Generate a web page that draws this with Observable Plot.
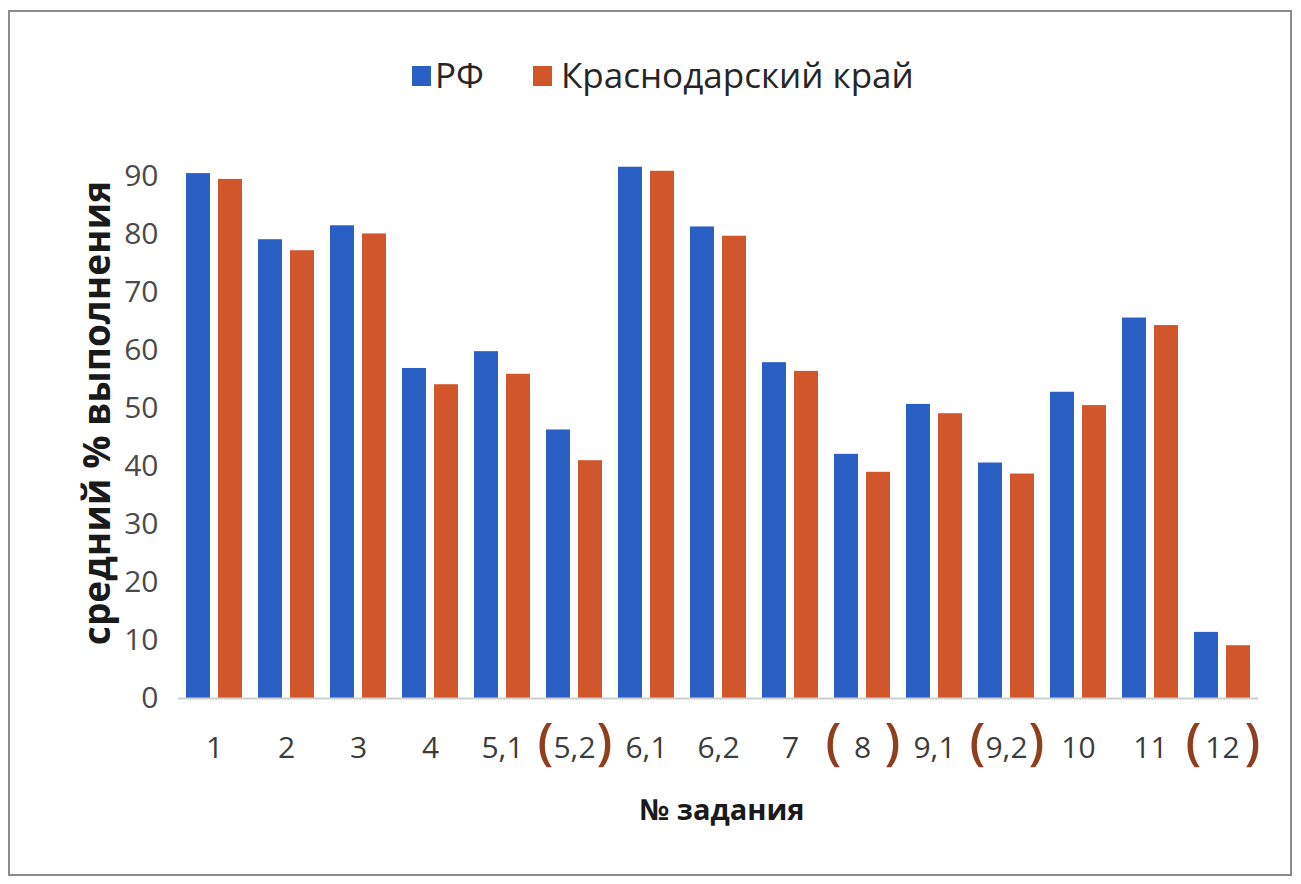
<!DOCTYPE html>
<html><head><meta charset="utf-8">
<script src="https://cdn.jsdelivr.net/npm/d3@7"></script>
<script src="https://cdn.jsdelivr.net/npm/@observablehq/plot@0.6"></script>
<style>
body{margin:0;background:#fff;font-family:"Open Sans",sans-serif;}
#wrap{position:relative;width:1301px;height:884px;overflow:hidden;background:#fff;}
#box{position:absolute;left:8px;top:10px;width:1284px;height:866px;border:2px solid #8c8c8c;box-sizing:border-box;}
#chart{position:absolute;left:0;top:0;}
.sw{position:absolute;width:19px;height:20px;}
.lt{position:absolute;font-size:35px;color:#262626;line-height:1;white-space:nowrap;}
#ytitle{position:absolute;left:95px;top:413px;transform:translate(-50%,-50%) rotate(-90deg);font-weight:700;font-size:37px;color:#1a1a1a;white-space:nowrap;}
#xtitle{position:absolute;left:722px;top:808px;transform:translate(-50%,-50%);font-weight:700;font-size:29px;color:#1a1a1a;white-space:nowrap;}
</style></head>
<body>
<div id="wrap">
  <div id="box"></div>
  <div id="chart"></div>
  <div id="legend"></div>
  <div id="ytitle"></div>
  <div id="xtitle"></div>
</div>
<script>
const tasks = ["1","2","3","4","5,1","5,2","6,1","6,2","7","8","9,1","9,2","10","11","12"];
const rfValues = [90.5,79.1,81.5,56.9,59.8,46.3,91.6,81.3,57.9,42.1,50.7,40.6,52.8,65.6,11.4];
const kkValues = [89.5,77.2,80.1,54.1,55.9,41.0,90.9,79.7,56.4,39.0,49.1,38.7,50.5,64.3,9.1];
const seriesNames = ["РФ","Краснодарский край"];
const seriesColors = ["#2a5fc4","#d2562b"];
const bracketedTasks = ["5,2","8","9,2","12"];
const yTicks = [0,10,20,30,40,50,60,70,80,90];
const yTitle = "средний % выполнения";
const xTitle = "№ задания";

const data = tasks.flatMap((t,i)=>[
  {task:t, series:seriesNames[0], value:rfValues[i]},
  {task:t, series:seriesNames[1], value:kkValues[i]}
]);

const chart = Plot.plot({
  width:1301, height:884,
  marginLeft:176, marginRight:42, marginTop:118, marginBottom:186,
  style:{fontFamily:"Open Sans", background:"transparent"},
  fx:{domain:tasks, padding:0, axis:null, label:null},
  x:{domain:seriesNames, padding:0.25, axis:null},
  y:{domain:[0,100], axis:null},
  color:{domain:seriesNames, range:seriesColors},
  marks:[
    Plot.barY(data,{fx:"task", x:"series", y:"value", fill:"series"}),
    Plot.ruleY([0],{stroke:"#cfcfcf", strokeWidth:2}),
    Plot.axisY({ticks:yTicks, tickSize:0, tickPadding:20, fontSize:30, fill:"#4a4a4a", label:null}),
    Plot.axisFx({anchor:"bottom", tickSize:0, tickPadding:38, fontSize:30, fill:"#3c3c3c", label:null}),
    Plot.text(bracketedTasks,{fx:d=>d, frameAnchor:"bottom", dy:60, dx:-29, text:()=>"(", fontSize:50, fontWeight:600, fill:"#8f3e1f"}),
    Plot.text(bracketedTasks,{fx:d=>d, frameAnchor:"bottom", dy:60, dx:30, text:()=>")", fontSize:50, fontWeight:600, fill:"#8f3e1f"})
  ]
});
document.getElementById("chart").appendChild(chart);

const legend = document.getElementById("legend");
const legendPos = [{sq:412, tx:435},{sq:533, tx:561}];
seriesNames.forEach((s,i)=>{
  const sw = document.createElement("div");
  sw.className="sw"; sw.style.left=legendPos[i].sq+"px"; sw.style.top="66px"; sw.style.background=seriesColors[i];
  legend.appendChild(sw);
  const tx = document.createElement("div");
  tx.className="lt"; tx.style.left=legendPos[i].tx+"px"; tx.style.top="57px"; tx.textContent=s;
  legend.appendChild(tx);
});
document.getElementById("ytitle").textContent = yTitle;
document.getElementById("xtitle").textContent = xTitle;
</script>
</body></html>
